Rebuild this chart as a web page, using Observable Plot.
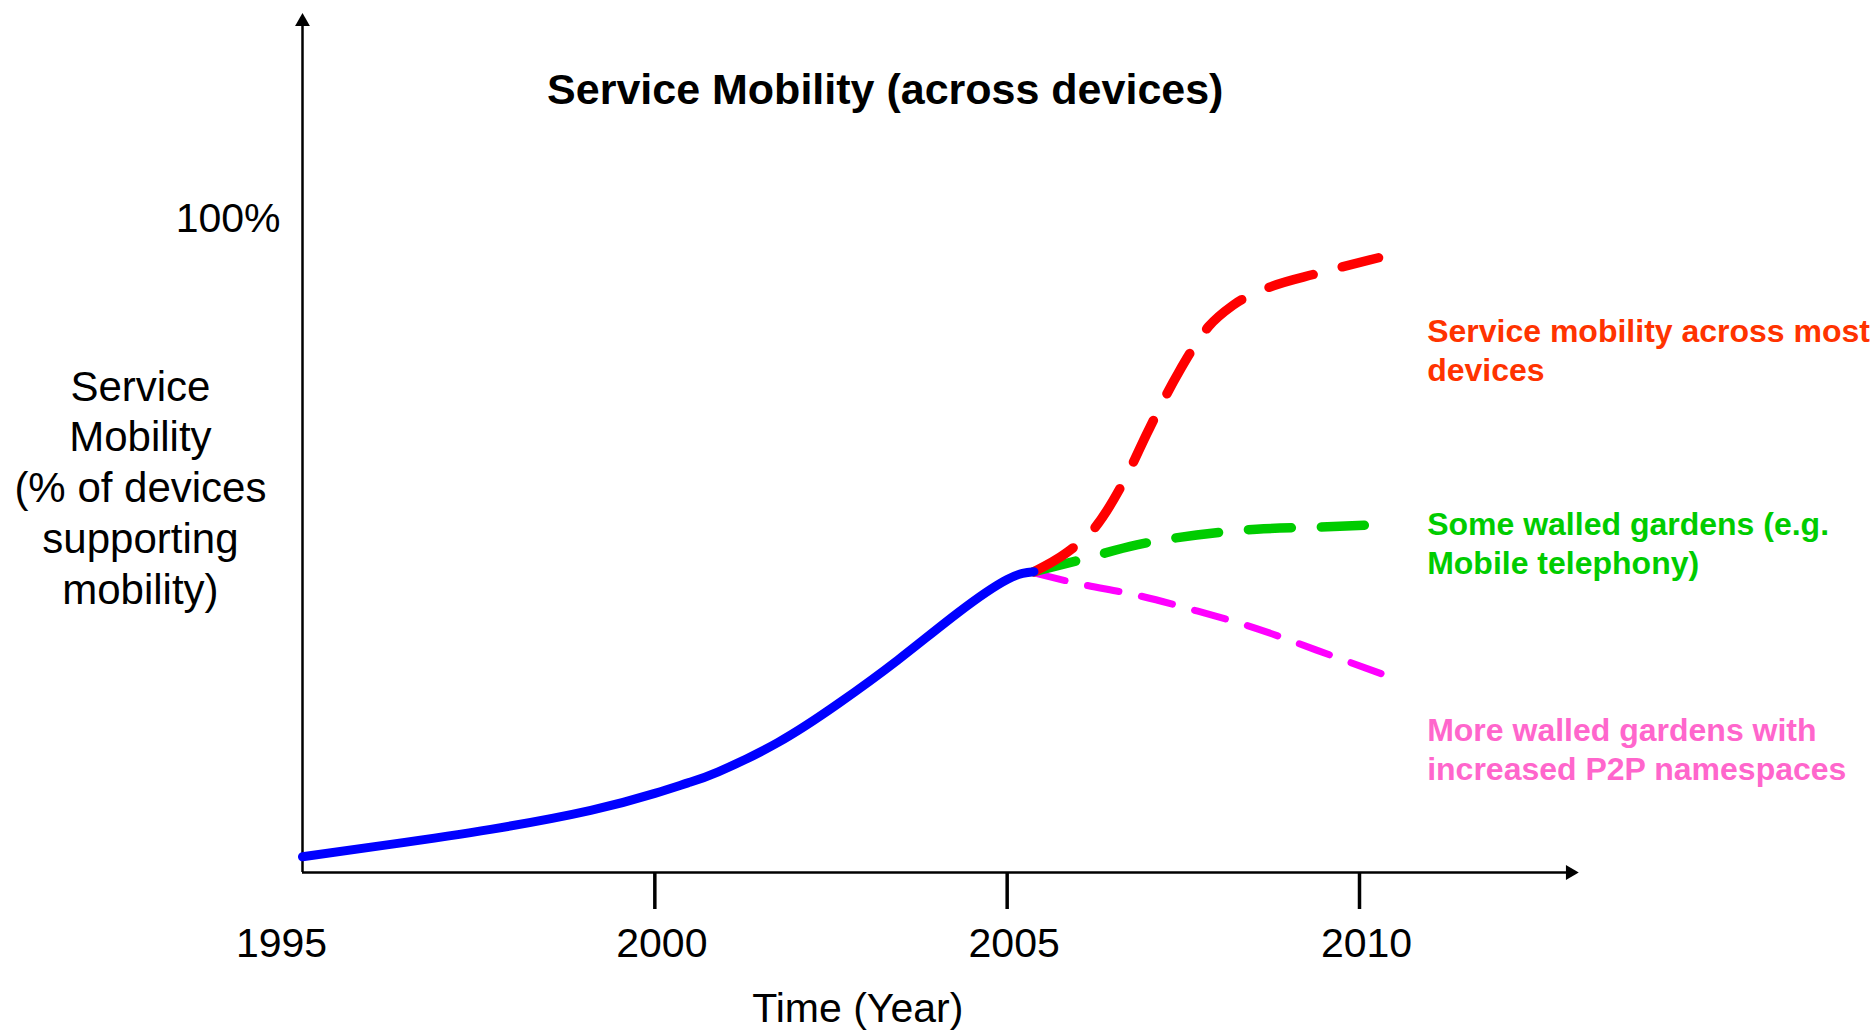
<!DOCTYPE html>
<html>
<head>
<meta charset="utf-8">
<script src="https://cdn.jsdelivr.net/npm/d3@7"></script>
<script src="https://cdn.jsdelivr.net/npm/@observablehq/plot@0.6"></script>
<style>
  html, body { margin: 0; padding: 0; background: #ffffff; }
  #chart svg { display: block; }
</style>
</head>
<body>
<div id="chart"></div>
<script>
// Historical adoption curve (solid blue)
const trendYear  = [1995, 1996.25, 1997.67, 1999.09, 2000.0, 2000.47, 2000.9, 2001.75, 2002.6, 2003.45, 2004.3, 2005.0, 2005.38];
const trendShare = [2.4, 4.3, 6.6, 9.5, 12.1, 13.7, 15.4, 19.9, 25.8, 32.5, 39.7, 44.8, 46.0];

// Scenario: service mobility across most devices (red)
const mostYear  = [2005.38, 2005.83, 2006.25, 2006.67, 2007.0, 2007.44, 2007.86, 2008.2, 2008.7, 2009.4, 2010.27];
const mostShare = [46.0, 48.8, 52.8, 60.1, 67.5, 76.6, 83.5, 86.7, 89.4, 91.6, 94.0];

// Scenario: some walled gardens (green)
const someYear  = [2005.38, 2006.0, 2006.84, 2007.69, 2008.54, 2009.39, 2010.32];
const someShare = [46.0, 47.7, 50.1, 51.6, 52.5, 52.8, 53.2];

// Scenario: more walled gardens with P2P namespaces (magenta)
const moreYear  = [2005.38, 2006.0, 2006.84, 2007.69, 2008.54, 2009.39, 2010.46];
const moreShare = [45.8, 44.2, 42.4, 40.0, 37.3, 34.0, 29.8];

// Axis labelling
const tickYears = [2000, 2005, 2010];
const labelYears = [1995, 2000, 2005, 2010];
const yTickLabel = "100%";
const chartTitle = "Service Mobility (across devices)";
const yTitle = "Service\nMobility\n(% of devices\nsupporting\nmobility)";
const xTitle = "Time (Year)";
const mostLabel = "Service mobility across most\ndevices";
const someLabel = "Some walled gardens (e.g.\nMobile telephony)";
const moreLabel = "More walled gardens with\nincreased P2P namespaces";

const zip = (xs, ys) => xs.map((x, i) => ({year: x, share: ys[i]}));
const trend = zip(trendYear, trendShare);
const most = zip(mostYear, mostShare);
const some = zip(someYear, someShare);
const more = zip(moreYear, moreShare);

const font = "'Liberation Sans', Arial, Helvetica, sans-serif";

const chart = Plot.plot({
  width: 1876,
  height: 1030,
  marginLeft: 302,
  marginRight: 517,
  marginTop: 218,
  marginBottom: 158,
  x: {domain: [1995, 2010], axis: null},
  y: {domain: [0, 100], axis: null},
  style: {fontFamily: font, background: "#ffffff", color: "#000000"},
  marks: [
    // axes with arrowheads
    Plot.ruleY([0], {x1: 1995, x2: 2012.99, stroke: "#000", strokeWidth: 2.5}),
    Plot.ruleX([1995], {y1: 0, y2: 130.1, stroke: "#000", strokeWidth: 2.5}),
    Plot.dot([0], {x: 2012.99, y: 0, symbol: "triangle", r: 5.5, rotate: 90, fill: "#000", stroke: null}),
    Plot.dot([0], {x: 1995, y: 130.1, symbol: "triangle", r: 5.5, fill: "#000", stroke: null}),
    // year ticks
    Plot.ruleX(tickYears, {y1: 0, y2: -5.66, stroke: "#000", strokeWidth: 3.5}),
    Plot.text(labelYears.filter(d => d === 1995), {x: d => d, y: 0, text: d => String(d), dy: 71, dx: -21, fontSize: 41, fill: "#000"}),
    Plot.text(labelYears.filter(d => d !== 1995), {x: d => d, y: 0, text: d => String(d), dy: 71, dx: 7, fontSize: 41, fill: "#000"}),
    Plot.text([yTickLabel], {x: 1995, y: 100, text: d => d, textAnchor: "end", dx: -22, fontSize: 41, fill: "#000"}),
    // titles
    Plot.text([chartTitle], {x: 2003.27, y: 119.6, text: d => d, fontSize: 43, fontWeight: "bold", fill: "#000"}),
    Plot.text([yTitle], {x: 1992.7, y: 59.1, text: d => d, fontSize: 42, lineHeight: 1.21, fill: "#000"}),
    Plot.text([xTitle], {x: 2002.88, y: -20.9, text: d => d, fontSize: 41, fill: "#000"}),
    // scenario curves
    Plot.line(more, {x: "year", y: "share", stroke: "#ff00ff", strokeWidth: 7, strokeDasharray: "32,23", curve: "monotone-x"}),
    Plot.line(some, {x: "year", y: "share", stroke: "#00cc00", strokeWidth: 9.5, strokeDasharray: "43,30", curve: "monotone-x"}),
    Plot.line(most, {x: "year", y: "share", stroke: "#ff0000", strokeWidth: 9.5, strokeDasharray: "46,30", curve: "monotone-x"}),
    Plot.line(trend, {x: "year", y: "share", stroke: "#0000ff", strokeWidth: 9, curve: "natural"}),
    // scenario labels
    Plot.text([mostLabel], {x: 2010.96, y: 80.0, text: d => d, textAnchor: "start", fontSize: 32, fontWeight: "bold", lineHeight: 1.22, fill: "#ff3300"}),
    Plot.text([someLabel], {x: 2010.96, y: 50.6, text: d => d, textAnchor: "start", fontSize: 32, fontWeight: "bold", lineHeight: 1.22, fill: "#00cc00"}),
    Plot.text([moreLabel], {x: 2010.96, y: 19.1, text: d => d, textAnchor: "start", fontSize: 32, fontWeight: "bold", lineHeight: 1.22, fill: "#ff66cc"})
  ]
});

document.getElementById("chart").appendChild(chart);
</script>
</body>
</html>
